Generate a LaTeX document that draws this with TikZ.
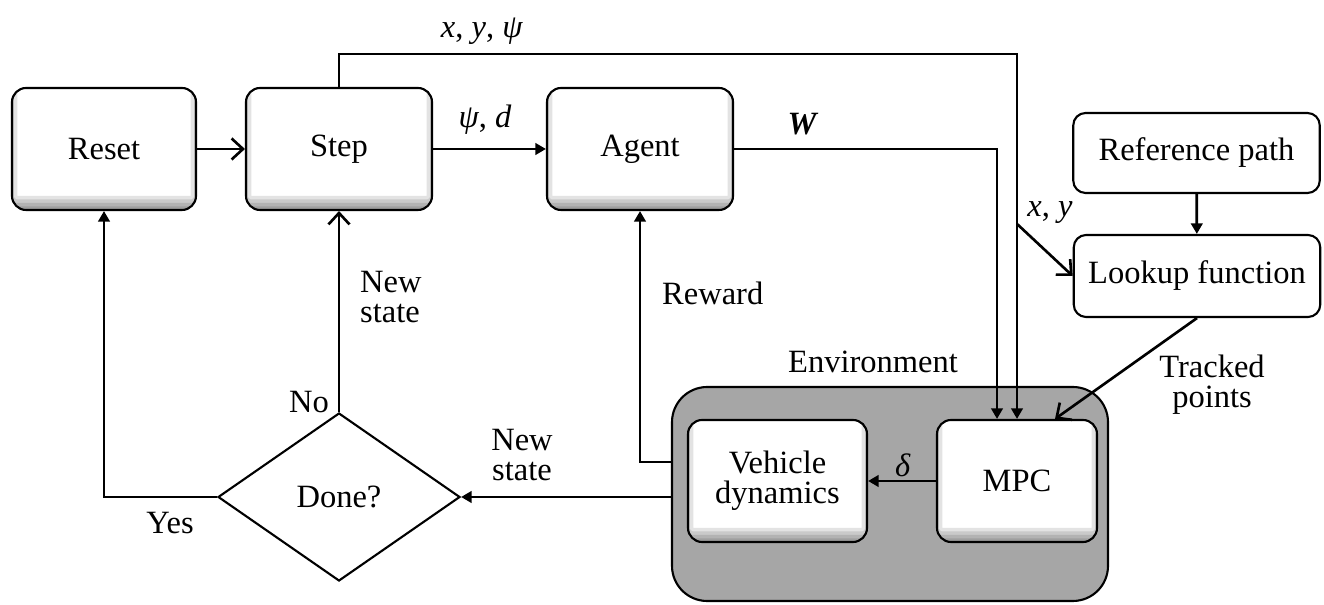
\documentclass[tikz,border=0pt]{standalone}
\usepackage{fontspec}
\setmainfont{Liberation Serif}
\usetikzlibrary{arrows.meta, positioning, shapes.geometric}

\begin{document}
\begin{tikzpicture}[line width=1.5pt,
			font=\fontsize{18.5}{17}\selectfont,
			fa/.style={-{Triangle[length=6pt,width=6.5pt]}},
			oa/.style={-{Straight Barb[length=6.5pt,width=12pt]}},
			inshade/.style={path picture={
				\foreach \w in {16,12,8,4}
					\draw[black, opacity=0.11, line width=\w pt, rounded corners=8pt]
						([xshift=-5pt,yshift=0pt]path picture bounding box.south west) rectangle
						([xshift=5pt,yshift=14pt]path picture bounding box.north east);
			}},
			block/.style={draw, fill=white, rounded corners=8pt, line width=1.2pt,
				minimum height=2.44cm, align=center, inshade},
			plain/.style={draw, fill=white, rounded corners=7pt, line width=1.2pt,
				minimum width=4.93cm, align=center},
			envbox/.style={draw, fill=black!35, rounded corners=20pt, line width=1.2pt,
				minimum width=8.72cm, minimum height=4.28cm},
			decision/.style={diamond, draw, line width=1.2pt, minimum width=4.84cm,
				minimum height=3.36cm, inner sep=0pt}]
			
			\useasboundingbox (0,0) rectangle (26.48,12.1);
			
			% Blocchi della catena di apprendimento
			\node[block, minimum width=3.68cm] (reset) at (2.08,9.12) {Reset};
			\node[block, minimum width=3.72cm] (step) at (6.78,9.12) {Step};
			\node[block, minimum width=3.72cm] (agent) at (12.8,9.12) {Agent};
			
			% Percorso di riferimento
			\node[plain, minimum height=1.6cm] (refpath) at (23.93,9.04) {Reference path};
			\node[plain, minimum height=1.64cm] (lookup) at (23.94,6.58) {Lookup function};
			
			% Ambiente
			\node[envbox] (env) at (17.8,2.22) {};
			\node (envlabel) at (17.46,4.86) {Environment};
			\node[block, minimum width=3.58cm] (vehdyn) at (15.55,2.48) {Vehicle\\dynamics};
			\node[block, minimum width=3.2cm] (mpc) at (20.34,2.48) {MPC};
			
			\node[decision] (done) at (6.78,2.16) {Done?};
			
			% Collegamenti
			\draw[oa] (reset) -- (step);
			\draw[fa] (step) -- (agent);
			\draw[fa] (step.north) -- ++(0,0.66) -| (mpc.north);
			\draw[fa] (agent) -| ([xshift=-0.4cm]mpc.north);
			\coordinate (tap) at ([yshift=3.9cm]mpc.north);
			\draw[oa] (tap) -- (lookup.west);
			\draw[fa] (refpath) -- (lookup);
			\draw[oa] (lookup.south) -- ([xshift=0.76cm]mpc.north);
			\draw[fa] (mpc) -- (vehdyn);
			\draw[fa] ([yshift=0.64cm]env.west) -| (agent);
			\draw[fa] (env.west |- done) -- (done);
			\draw[oa] (done.north) -- (step.south);
			\draw[fa] (done.west) -| (reset.south);
			
			% Etichette
			\node (lblxyp) at (9.64,11.48) {\textit{x}, \textit{y}, \textit{ψ}};
			\node (lblpsid) at (9.7,9.7) {\textit{ψ}, \textit{d}};
			\node (lblw) at (16.06,9.62) {\textbf{\textit{W}}};
			\node (lblxy) at (21.0,7.84) {\textit{x}, \textit{y}};
			\node[align=center] (lbltrack) at (24.24,4.4) {Tracked\\points};
			\node (lbldelta) at (18.06,2.8) {\textit{δ}};
			\node[anchor=west] (lblreward) at (13.1,6.24) {Reward};
			\node[align=center] (lblnew) at (10.44,3.0) {New\\state};
			\node[anchor=west, align=left] (lblnewup) at (7.06,6.16) {New\\state};
			\node (lblno) at (6.18,4.06) {No};
			\node (lblyes) at (3.4,1.64) {Yes};
		\end{tikzpicture}
\end{document}
